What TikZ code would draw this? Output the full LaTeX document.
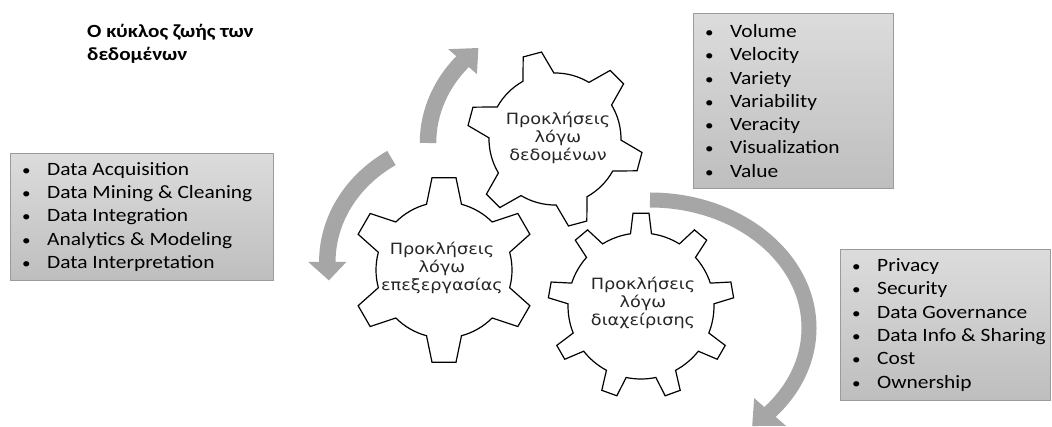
\documentclass[tikz,border=0pt]{standalone}
\usepackage{fontspec}
\setmainfont{Carlito}
\newfontfamily\listfont[FakeStretch=1.14]{Carlito}
\newfontfamily\cogfont[FakeStretch=1.14]{DejaVu Sans}
\usetikzlibrary{calc}

\definecolor{arrowgray}{RGB}{166,166,166}
\definecolor{boxtop}{RGB}{220,220,220}
\definecolor{boxbottom}{RGB}{190,190,190}
\definecolor{boxline}{RGB}{155,155,155}

\tikzset{
  % cog outline: #1 teeth, #2 tip radius, #3 root radius,
  % #4 half width of a tooth tip, #5 half width of a tooth base, #6 angle of the first tooth
  pics/cog/.style n args={6}{code={
    \pgfmathsetmacro{\cogstep}{360/#1}
    \pgfmathsetmacro{\cogtip}{asin(#4/#2)}
    \pgfmathsetmacro{\cogbase}{asin(#5/#3)}
    \pgfmathtruncatemacro{\coglast}{#1-1}
    \draw[cogline] ({#6-\cogbase}:#3pt)
      \foreach \k in {0,...,\coglast}{
        -- ({#6+\k*\cogstep-\cogtip}:#2pt)
        -- ({#6+\k*\cogstep+\cogtip}:#2pt)
        -- ({#6+\k*\cogstep+\cogbase}:#3pt)
        arc[start angle={#6+\k*\cogstep+\cogbase},
            end angle={#6+(\k+1)*\cogstep-\cogbase}, radius=#3pt]
      } -- cycle;
  }},
  cogline/.style={draw=black, line width=1.2pt, fill=white, line join=miter},
  cogtext/.style={font=\cogfont\fontsize{15.5}{18.3}\selectfont, align=center,
    text=black!85, inner sep=0pt},
  listbox/.style={draw=boxline, line width=0.8pt, top color=boxtop,
    bottom color=boxbottom, anchor=north west, inner sep=0pt},
  listtext/.style={anchor=west, align=left, inner sep=0pt,
    font=\listfont\fontsize{18.8}{23.3}\selectfont},
  titletext/.style={anchor=north west, align=left, inner sep=0pt,
    font=\listfont\bfseries\fontsize{18.6}{22.7}\selectfont},
  arrowbody/.style={draw=arrowgray, line width=16.5pt},
  arrowhead/.style={fill=arrowgray},
}
% list bullet: a small dot in a fixed-width slot
\newcommand{\itm}{\makebox[25pt][l]{\fontsize{15}{15}\selectfont •}}

\begin{document}
\begin{tikzpicture}[x=1pt, y=1pt]
  \useasboundingbox (0,0) rectangle (1052,-427);
  \fill[white] (0,0) rectangle (1052,-427);
  \clip (0,0) rectangle (1052,-427);

  % title
  \node[titletext] (title) at (87,-24) {Ο κύκλος ζωής των\\δεδομένων};

  % curved arrows around the cogs
  \coordinate (ca) at (569,-143);
  \coordinate (cb) at (469,-262);
  \coordinate (cc) at (650,-328);

  \draw[arrowbody] ($(ca)+(180:141pt and 124pt)$)
    arc[start angle=180, end angle=137, x radius=141pt, y radius=124pt];
  \fill[arrowhead] ($(ca)+(139:122pt and 105pt)$) -- ($(ca)+(139:160pt and 143pt)$)
    -- ($(ca)+(130:141pt and 124pt)$) -- cycle;

  \draw[arrowbody] ($(cb)+(123.2:141.7pt and 124.3pt)$)
    arc[start angle=123.2, end angle=182, x radius=141.7pt, y radius=124.3pt];
  \fill[arrowhead] ($(cb)+(180:122.7pt and 105.3pt)$) -- ($(cb)+(180:160.7pt and 143.3pt)$)
    -- ($(cb)+(188.5:141.7pt and 124.3pt)$) -- cycle;

  \draw[arrowbody, line width=15pt] ($(cc)+(90:159pt and 128pt)$)
    arc[start angle=90, end angle=-43, x radius=159pt, y radius=128pt];
  \fill[arrowhead] ($(cc)+(-41:138pt and 107pt)$) -- ($(cc)+(-41:180pt and 149pt)$)
    -- ($(cc)+(-50:159pt and 128pt)$) -- cycle;

  % cogs
  \begin{scope}[shift={(555,-139)}, xscale=1.13]
    \pic {cog={6}{88}{66}{9.5}{16}{105}};
  \end{scope}
  \begin{scope}[shift={(444,-270)}, xscale=1.14]
    \pic {cog={6}{93}{68}{12}{17.5}{90}};
  \end{scope}
  \begin{scope}[shift={(641,-306)}, xscale=1.06]
    \pic {cog={9}{93}{73}{8}{10.5}{90}};
  \end{scope}

  \node[cogtext] (data) at (558,-138) {Προκλήσεις\\λόγω\\δεδομένων};
  \node[cogtext] (proc) at (442,-268) {Προκλήσεις\\λόγω\\επεξεργασίας};
  \node[cogtext] (mgmt) at (643,-303) {Προκλήσεις\\λόγω\\διαχείρισης};

  % lists
  \node[listbox, minimum width=263pt, minimum height=127pt] (procbox) at (10,-153) {};
  \node[listtext] (proclist) at ([xshift=12pt]procbox.west)
    {\itm Data Acquisition\\\itm Data Mining \& Cleaning\\\itm Data Integration\\
     \itm Analytics \& Modeling\\\itm Data Interpretation};

  \node[listbox, minimum width=200pt, minimum height=175pt] (databox) at (693,-13) {};
  \node[listtext] (datalist) at ([xshift=12pt]databox.west)
    {\itm Volume\\\itm Velocity\\\itm Variety\\\itm Variability\\\itm Veracity\\
     \itm Visualization\\\itm Value};

  \node[listbox, minimum width=210pt, minimum height=151pt] (mgmtbox) at (840,-249) {};
  \node[listtext] (mgmtlist) at ([xshift=12pt]mgmtbox.west)
    {\itm Privacy\\\itm Security\\\itm Data Governance\\\itm Data Info \& Sharing\\
     \itm Cost\\\itm Ownership};
\end{tikzpicture}
\end{document}
